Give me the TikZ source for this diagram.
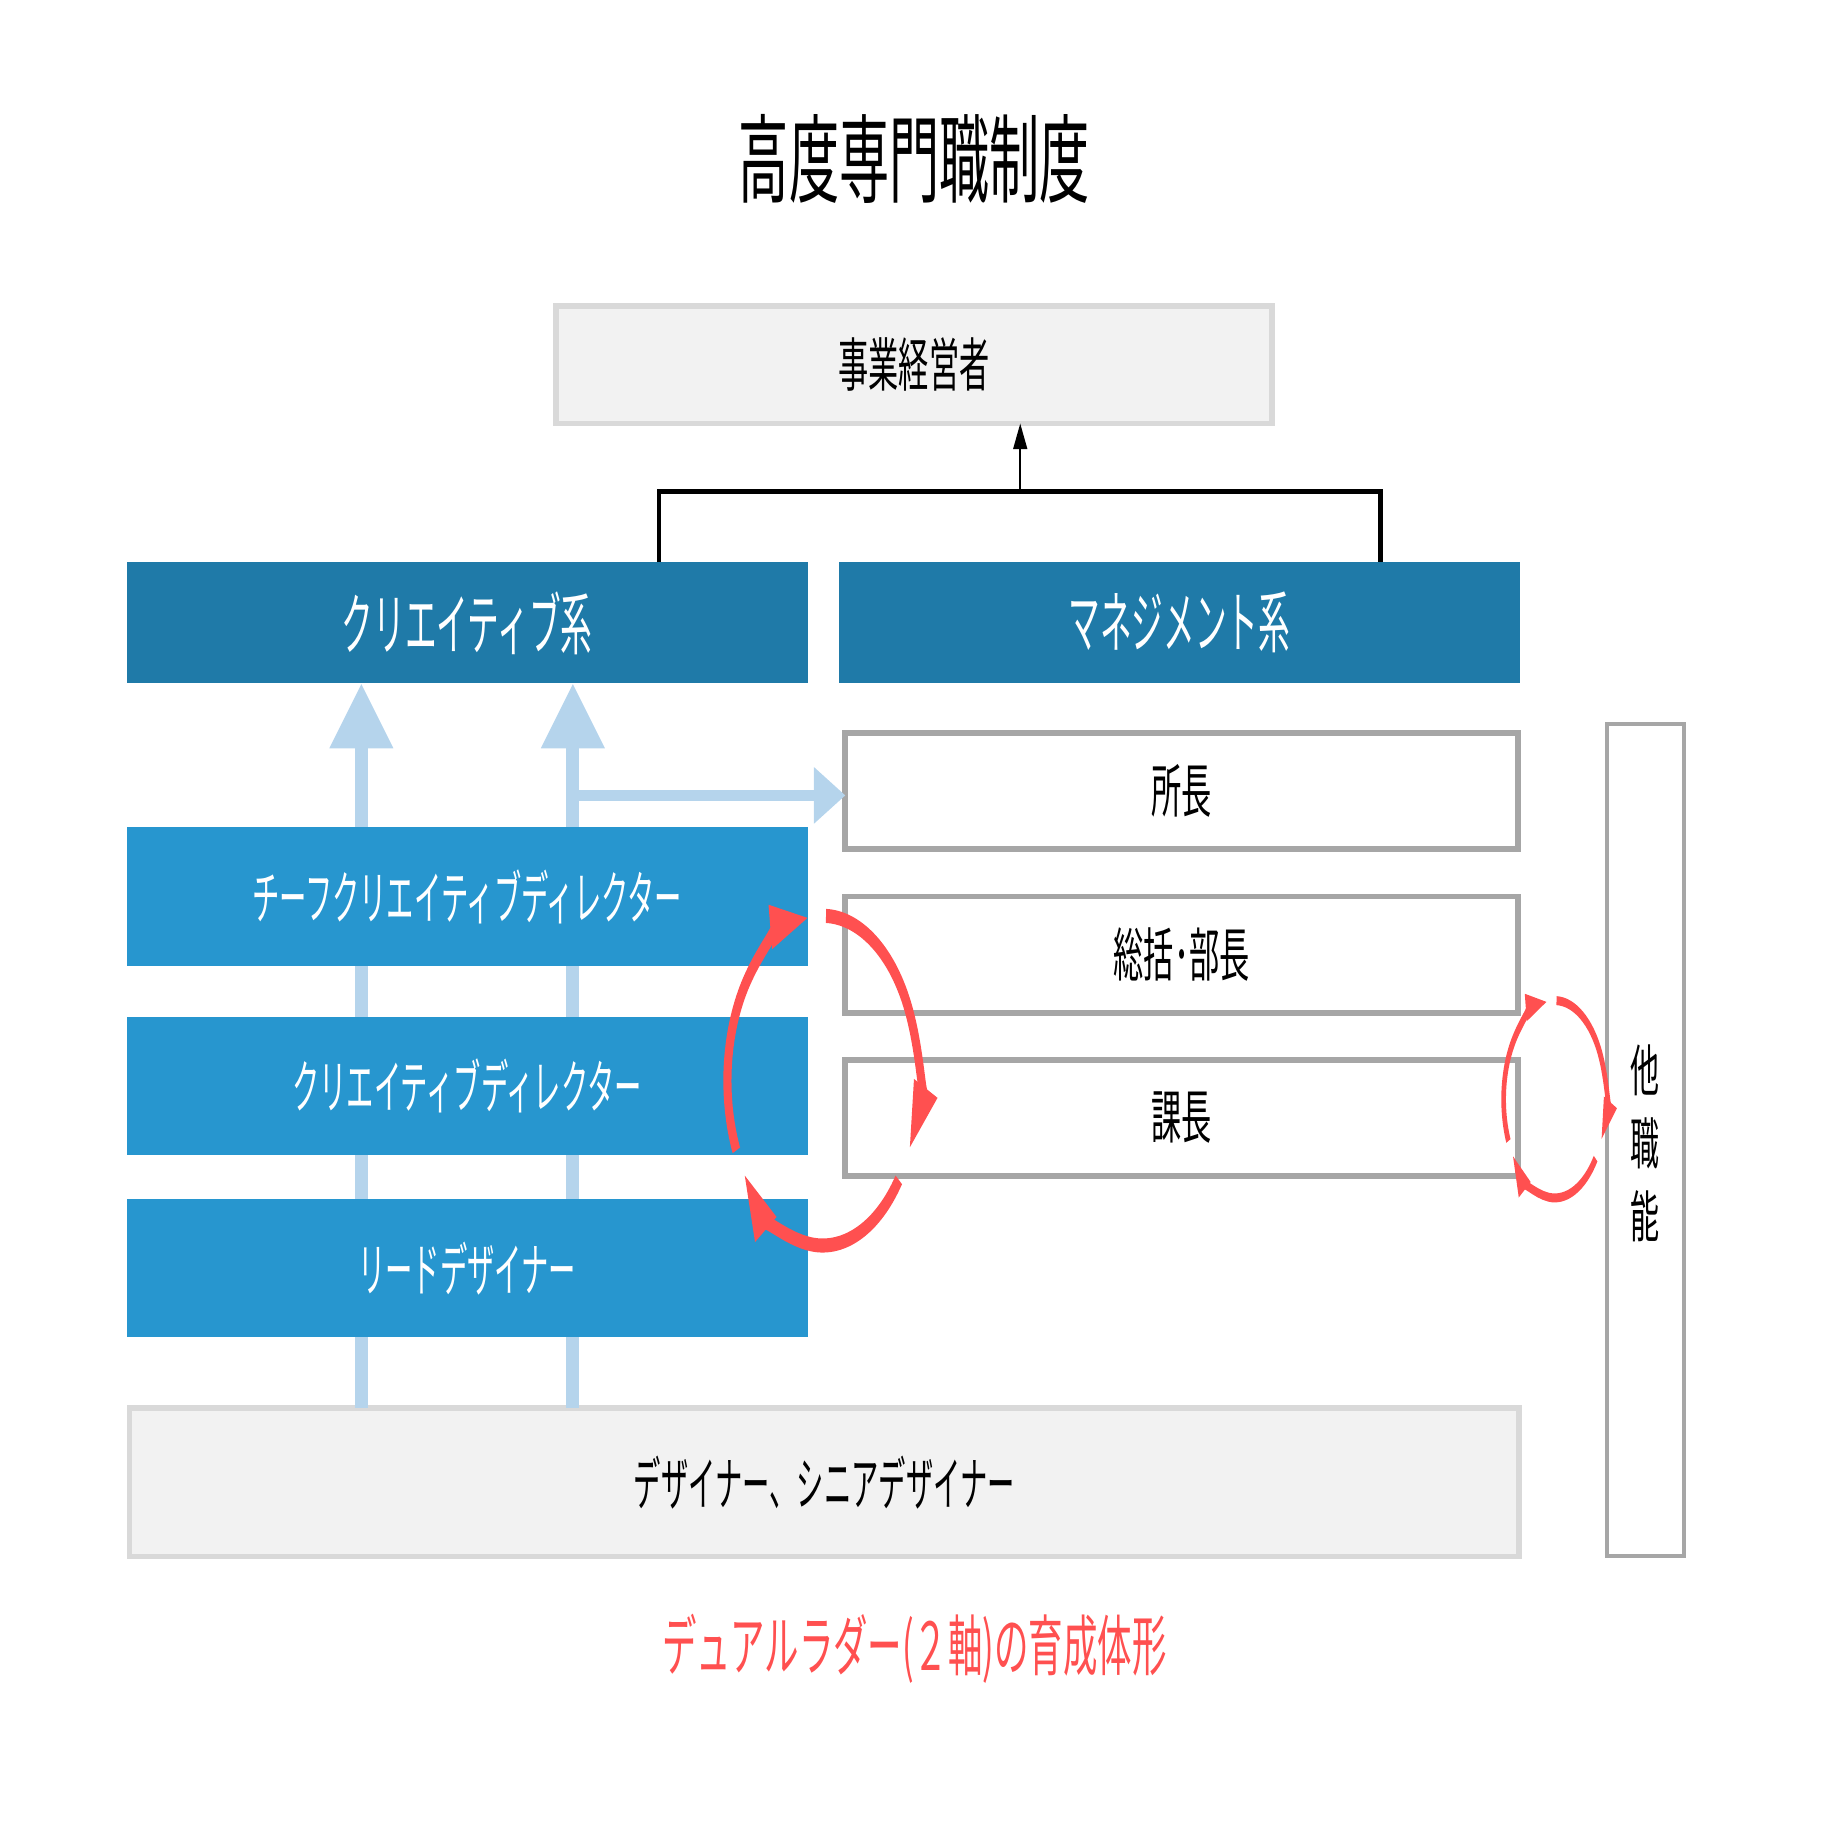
\documentclass[tikz,border=0pt]{standalone}
\usepackage{fontspec}
\newfontfamily\jp[FakeStretch=0.52]{Noto Sans CJK JP}
\newfontfamily\jpk[FakeStretch=0.47]{Noto Sans CJK JP}
\usetikzlibrary{arrows.meta}
\definecolor{hdr}{RGB}{31,122,168}
\definecolor{mid}{RGB}{39,150,207}
\definecolor{lb}{RGB}{181,212,236}
\definecolor{rd}{RGB}{255,80,80}
\definecolor{gfill}{RGB}{242,242,242}
\definecolor{gline}{RGB}{217,217,217}
\definecolor{wline}{RGB}{166,166,166}
\tikzset{
  every node/.style={inner sep=0pt, outer sep=0pt},
  graybox/.style={draw=gline, line width=5pt, fill=gfill, font=\jpk\fontsize{50}{58}\selectfont},
  hdrbox/.style={fill=hdr, text=white, minimum width=586pt, minimum height=104pt, font=\jpk\fontsize{58}{66}\selectfont},
  midbox/.style={fill=mid, text=white, minimum width=586pt, minimum height=119pt, font=\jpk\fontsize{50}{58}\selectfont},
  wbox/.style={draw=wline, line width=5pt, fill=white, minimum width=579pt, minimum height=100pt, font=\jp\fontsize{50}{60}\selectfont},
  lbarrow/.style={draw=lb, line width=11pt, -{Triangle[length=56pt,width=52pt]}},
  lbharrow/.style={draw=lb, line width=10pt, -{Triangle[length=27pt,width=47pt]}},
  bracket/.style={draw=black, line width=4pt},
  blackarrow/.style={draw=black, line width=1.5pt, -{Triangle[length=22pt,width=12pt]}},
  bigcyc/.style={draw=rd, line width=7pt, -{Triangle[length=34pt,width=20pt]}},
  smallcyc/.style={draw=rd, line width=4pt, -{Triangle[length=19pt,width=11pt]}},
}
\begin{document}
\begin{tikzpicture}[x=1pt,y=-1pt]
\useasboundingbox (0,0) rectangle (1568,1568);

% title
\node[font=\jp\fontsize{83}{90}\selectfont] (title) at (787,137) {高度専門職制度};

% light blue arrow positions
\coordinate (a1) at (311,0);
\coordinate (a2) at (493,0);

% boxes
\node[graybox, minimum width=616pt, minimum height=101pt, font=\jp\fontsize{50}{60}\selectfont] (exec) at (786.5,314) {事業経営者};
\node[hdrbox] (cre) at (402,536) {クリエイティブ系};
\node[hdrbox] (mgmt) at (1015,536) {マネジメント系};
\node[graybox, minimum width=1196pt, minimum height=128pt] (base) at (709.5,1275.5) {デザイナー、シニアデザイナー};

\draw[lbarrow] (base.north -| a1) -- (cre.south -| a1);
\draw[lbarrow] (base.north -| a2) -- (cre.south -| a2);

\node[midbox] (chief) at (402,771.5) {チーフクリエイティブディレクター};
\node[midbox] (cd) at (402,934.5) {クリエイティブディレクター};
\node[midbox] (lead) at (402,1091.5) {リードデザイナー};

\node[wbox] (shocho) at (1017,680.5) {所長};
\node[wbox] (bucho) at (1017,821.5) {総括･部長};
\node[wbox] (kacho) at (1017,962) {課長};

\coordinate (hy) at ([yshift=-4pt]shocho.west);
\draw[lbharrow] (hy -| a2) -- (hy);

\node[draw=wline, line width=3.5pt, fill=white, minimum width=66pt, minimum height=716pt] (other) at (1416,981) {};
\node[align=center, font=\jp\fontsize{48}{63}\selectfont] (othertext) at (1416,984) {他\\職\\能};

% bracket and arrow to exec
\coordinate (j) at (878,423);
\draw[bracket] ([xshift=165pt]cre.north) |- (j) -| ([xshift=173pt]mgmt.north);
\draw[blackarrow] (j) -- (j |- exec.south);

% caption
\node[text=rd, font=\jp\fontsize{57}{64}\selectfont] (cap) at (787,1419) {デュアルラダー(２軸)の育成体形};

% big cycle
\begin{scope}[transform canvas={shift={(708,930)}, yscale=1.73}]
  \draw[bigcyc] (-205:82) arc[start angle=-205, end angle=-98, radius=82];
  \draw[bigcyc] (-88:82) arc[start angle=-88, end angle=25, radius=82];
  \draw[bigcyc] (37:82) arc[start angle=37, end angle=146, radius=82];
\end{scope}
% small cycle
\begin{scope}[transform canvas={shift={(1338,946)}, yscale=1.93}]
  \draw[smallcyc] (-205:44) arc[start angle=-205, end angle=-98, radius=44];
  \draw[smallcyc] (-88:44) arc[start angle=-88, end angle=25, radius=44];
  \draw[smallcyc] (37:44) arc[start angle=37, end angle=146, radius=44];
\end{scope}
\end{tikzpicture}
\end{document}
